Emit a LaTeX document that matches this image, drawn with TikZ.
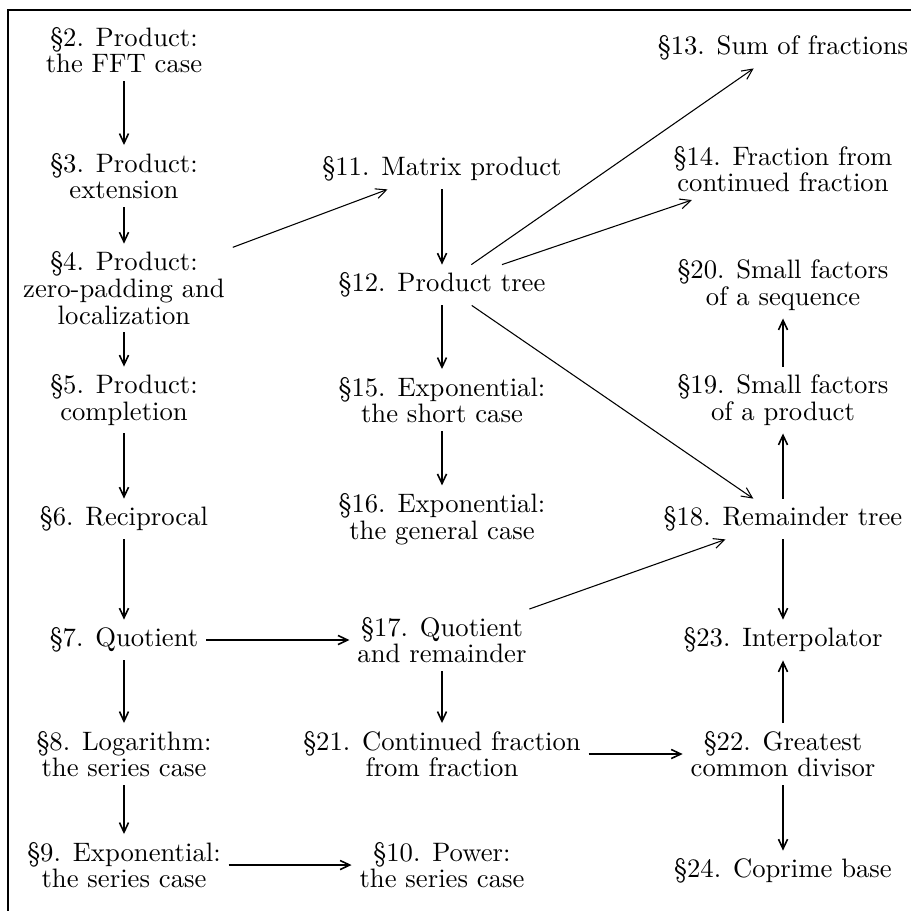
\documentclass[tikz,border=0pt]{standalone}
\usetikzlibrary{arrows.meta}
\begin{document}
\begin{tikzpicture}[x=0.375pt,y=-0.375pt,
  box/.style={inner sep=3pt,outer sep=0pt,align=center,font=\fontsize{10}{10}\selectfont},
  straight/.style={line width=0.75pt,-{Straight Barb[length=3.6pt,width=3.4pt,line width=0.6pt]}},
  slant/.style={line width=0.4pt,-{Straight Barb[length=4pt,width=3.8pt,line width=0.4pt]}},
  frameline/.style={line width=1.1pt,line cap=rect}]
\useasboundingbox (0,0) rectangle (915,910);
\draw[frameline] (910,10) -- (8,10) -- (8,912);
% column x and row y
\def\ca{124}\def\cb{442}\def\cc{783}
\def\ra{50}\def\rb{169}\def\rc{285}\def\rd{400}\def\re{519}\def\rf{640}\def\rg{754}\def\rh{865}
% column 1
\node[box] (n2) at (\ca,\ra) {\S2. Product:\\the FFT case};
\node[box] (n3) at (\ca,176) {\S3. Product:\\extension};
\node[box] (n4) at (\ca,288) {\S4. Product:\\zero-padding and\\localization};
\node[box] (n5) at (\ca,\rd) {\S5. Product:\\completion};
\node[box] (n6) at (\ca,\re) {\S6. Reciprocal};
\node[box] (n7) at (\ca,\rf) {\S7. Quotient};
\node[box] (n8) at (\ca,\rg) {\S8. Logarithm:\\the series case};
\node[box] (n9) at (\ca,\rh) {\S9. Exponential:\\the series case};
% column 2
\node[box] (n11) at (\cb,\rb) {\S11. Matrix product};
\node[box] (n12) at (\cb,\rc) {\S12. Product tree};
\node[box] (n15) at (\cb,\rd) {\S15. Exponential:\\the short case};
\node[box] (n16) at (\cb,\re) {\S16. Exponential:\\the general case};
\node[box] (n17) at (\cb,\rf) {\S17. Quotient\\and remainder};
\node[box] (n21) at (\cb,\rg) {\S21. Continued fraction\\from fraction};
\node[box] (n10) at (\cb,\rh) {\S10. Power:\\the series case};
% column 3
\node[box] (n13) at (\cc,48) {\S13. Sum of fractions};
\node[box] (n14) at (\cc,\rb) {\S14. Fraction from\\continued fraction};
\node[box] (n20) at (\cc,\rc) {\S20. Small factors\\of a sequence};
\node[box] (n19) at (\cc,\rd) {\S19. Small factors\\of a product};
\node[box] (n18) at (\cc,\re) {\S18. Remainder tree};
\node[box] (n23) at (\cc,\rf) {\S23. Interpolator};
\node[box] (n22) at (\cc,\rg) {\S22. Greatest\\common divisor};
\node[box] (n24) at (\cc,871) {\S24. Coprime base};
% straight arrows
\draw[straight] (n2) -- (n3);
\draw[straight] (n3) -- (n4);
\draw[straight] (n4) -- (n5);
\draw[straight] (n5) -- (n6);
\draw[straight] (n6) -- (n7);
\draw[straight] (n7) -- (n8);
\draw[straight] (n8) -- (n9);
\draw[straight] (n9) -- (n10);
\draw[straight] (n7) -- (n17);
\draw[straight] (n21) -- (n22);
\draw[straight] (n11) -- (n12);
\draw[straight] (n12) -- (n15);
\draw[straight] (n15) -- (n16);
\draw[straight] (n17) -- (n21);
\draw[straight] (n18) -- (n19);
\draw[straight] (n19) -- (n20);
\draw[straight] (n18) -- (n23);
\draw[straight] (n22) -- (n23);
\draw[straight] (n22) -- (n24);
% slanted arrows
\draw[slant] (n4) -- (n11);
\draw[slant] (n12) -- (n13);
\draw[slant] (n12) -- (n14);
\draw[slant] (n12) -- (n18);
\draw[slant] (n17) -- (n18);
\end{tikzpicture}
\end{document}
